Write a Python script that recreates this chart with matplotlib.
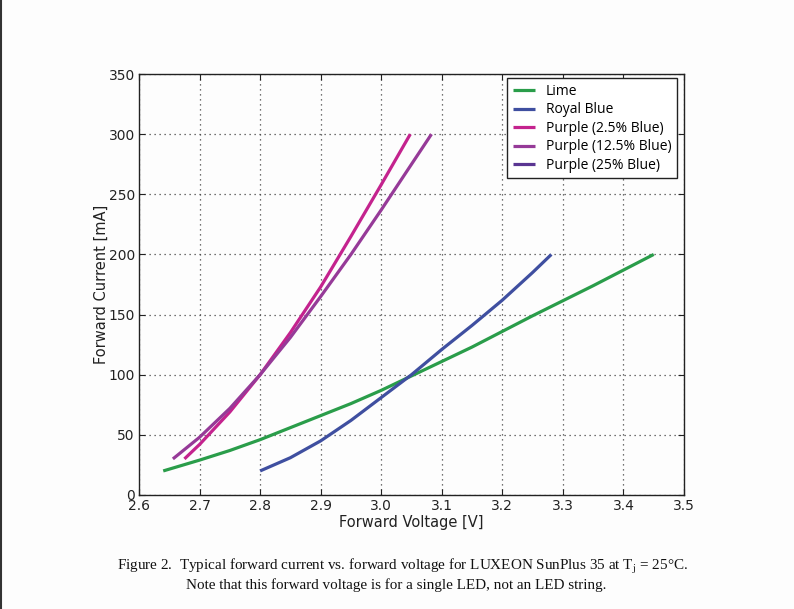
import matplotlib
matplotlib.use("Agg")
import matplotlib.pyplot as plt
from matplotlib.lines import Line2D

# ---- data ----
lime_v = [2.64, 2.70, 2.75, 2.80, 2.85, 2.90, 2.95, 3.00, 3.05, 3.10, 3.15, 3.20, 3.25, 3.30, 3.35, 3.40, 3.45]
lime_i = [20, 29, 37, 46, 56, 66, 76, 87, 99, 111, 123, 136, 149, 161.5, 174, 187, 200]

royal_v = [2.80, 2.85, 2.90, 2.95, 3.00, 3.05, 3.10, 3.15, 3.20, 3.25, 3.281]
royal_i = [20, 31, 45, 62, 81, 100, 121, 141, 162, 185, 200]

p025_v = [2.675, 2.70, 2.75, 2.80, 2.85, 2.90, 2.95, 3.00, 3.048]
p025_i = [30, 42, 69, 100, 135, 173, 215, 258, 300]

p125_v = [2.656, 2.70, 2.75, 2.80, 2.85, 2.90, 2.95, 3.00, 3.05, 3.083]
p125_i = [30, 48, 72, 100, 131, 165, 200, 237, 275, 300]

p25_v = []
p25_i = []

x_ticks = [2.6, 2.7, 2.8, 2.9, 3.0, 3.1, 3.2, 3.3, 3.4, 3.5]
y_ticks = [0, 50, 100, 150, 200, 250, 300, 350]

series = [
    ("Lime", lime_v, lime_i, "#2a9d4a"),
    ("Royal Blue", royal_v, royal_i, "#3f4fa0"),
    ("Purple (2.5% Blue)", p025_v, p025_i, "#c4238e"),
    ("Purple (12.5% Blue)", p125_v, p125_i, "#963a98"),
    ("Purple (25% Blue)", p25_v, p25_i, "#5a3592"),
]

bg = "#fdfdfd"
fig = plt.figure(figsize=(7.94, 6.09), dpi=100, facecolor=bg)
ax = fig.add_axes([139/794, 1-495/609, (684-139)/794, (495-74)/609])
ax.set_facecolor(bg)

for name, v, i, c in series:
    ax.plot(v, i, color=c, lw=2.3, label=name, solid_capstyle="butt",
            solid_joinstyle="round")

ax.set_xlim(2.6, 3.5)
ax.set_ylim(0, 350)
ax.set_xticks(x_ticks)
ax.set_xticklabels([f"{t:.1f}" for t in x_ticks])
ax.set_yticks(y_ticks)
ax.set_yticklabels([str(t) for t in y_ticks])
ax.tick_params(direction="in", top=True, right=True, length=4, width=0.8,
               labelsize=10, colors="#222222", pad=3)
ax.grid(True, linestyle=(0, (1, 3)), color="#444444", lw=0.9)
for s in ax.spines.values():
    s.set_color("#222222")
    s.set_linewidth(1.0)

ax.set_xlabel("Forward Voltage [V]", fontsize=10.5, color="#222222", labelpad=1)
ax.set_ylabel("Forward Current [mA]", fontsize=10.5, color="#222222", labelpad=0)

leg = ax.legend(loc="upper right", bbox_to_anchor=(1.0, 1.006), fancybox=False,
                framealpha=1, edgecolor="#222222", prop={"family": "Open Sans", "size": 10},
                handlelength=1.6, borderpad=0.4, labelspacing=0.25, handletextpad=0.8,
                borderaxespad=0.5)
leg.get_frame().set_linewidth(1.0)

# left page border line
fig.add_artist(Line2D([0.0015, 0.0015], [0, 1], transform=fig.transFigure,
                      color="#333333", lw=1.5))

plt.rcParams["mathtext.fontset"] = "stix"
fig.text(117/794, 1-567/609,
         "Figure 2.  Typical forward current vs. forward voltage for LUXEON SunPlus 35 at T$_{\\mathrm{j}}$ = 25°C.",
         fontsize=10.9, family="Liberation Serif", color="#111111", va="center", ha="left")
fig.text(186/794, 1-585/609,
         "Note that this forward voltage is for a single LED, not an LED string.",
         fontsize=10.9, family="Liberation Serif", color="#111111", va="center", ha="left")

fig.savefig("out.png", dpi=100, facecolor=bg)
